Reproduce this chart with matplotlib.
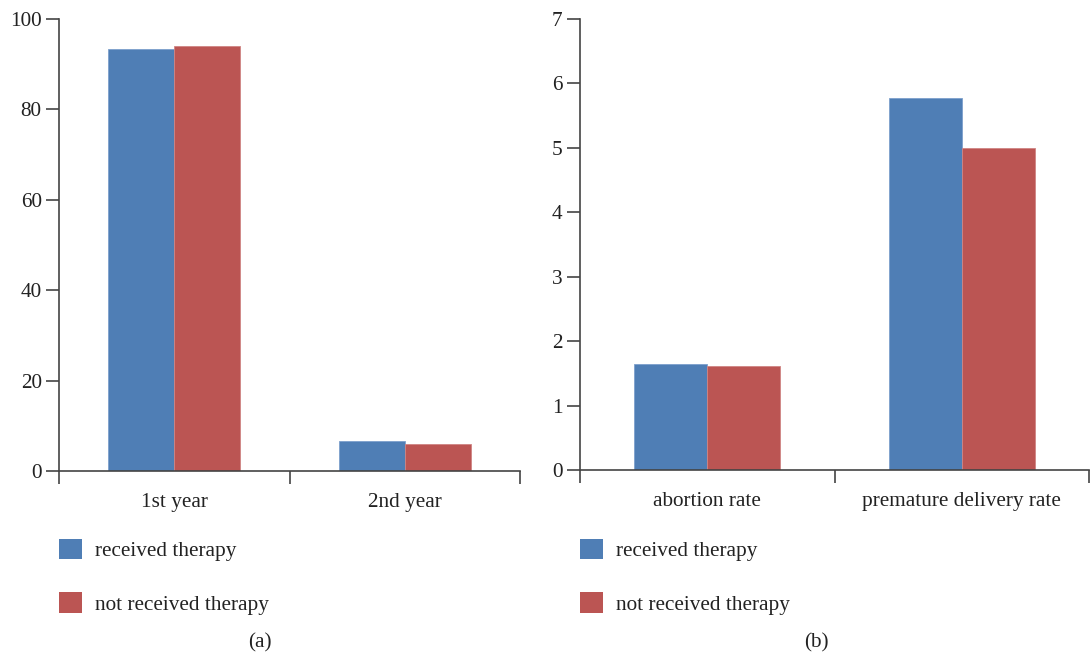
import matplotlib
matplotlib.use("Agg")
import matplotlib.pyplot as plt
from matplotlib.patches import Patch
import numpy as np

plt.rcParams['font.family'] = ['Liberation Serif', 'DejaVu Serif']

# data
years = ["1st year", "2nd year"]
years_received = [93.3, 6.6]
years_not_received = [94.0, 6.0]

outcomes = ["abortion rate", "premature delivery rate"]
outcomes_received = [1.65, 5.78]
outcomes_not_received = [1.61, 5.0]

series_names = ["received therapy", "not received therapy"]
blue = "#4f7eb5"
red = "#bb5553"
axis_col = "#444444"
fs = 15.3

W, H = 1090, 657
fig = plt.figure(figsize=(W / 100, H / 100), dpi=100)


def px_axes(x0, x1, ytop, ybot):
    return fig.add_axes([x0 / W, 1 - ybot / H, (x1 - x0) / W, (ybot - ytop) / H])


def draw_panel(ax, cats, vals_a, vals_b, ymax, yticks):
    bw = 0.286
    pos = np.arange(len(cats)) + 0.5
    ax.bar(pos - bw / 2, vals_a, bw, color=blue, edgecolor="#7da0cc", linewidth=0.6)
    ax.bar(pos + bw / 2, vals_b, bw, color=red, edgecolor="#d08583", linewidth=0.6)
    ax.set_xlim(0, len(cats))
    ax.set_ylim(0, ymax)
    ax.set_yticks(yticks)
    ax.set_xticks(np.arange(len(cats) + 1))
    ax.set_xticklabels([])
    ax.set_xticks(pos, minor=True)
    ax.set_xticklabels(cats, minor=True)
    ax.tick_params(axis="x", which="major", direction="out", length=9.5,
                   width=1.2, color=axis_col)
    ax.tick_params(axis="x", which="minor", length=0, pad=16, labelsize=fs,
                   labelcolor="#222222")
    ax.tick_params(axis="y", direction="out", length=9.5, width=1.2,
                   color=axis_col, labelsize=fs, labelcolor="#222222", pad=3)
    for s in ["top", "right"]:
        ax.spines[s].set_visible(False)
    for s in ["left", "bottom"]:
        ax.spines[s].set_color(axis_col)
        ax.spines[s].set_linewidth(1.2)


ax1 = px_axes(59, 520, 19, 471)
draw_panel(ax1, years, years_received, years_not_received, 100, [0, 20, 40, 60, 80, 100])

ax2 = px_axes(580, 1089, 19, 470)
draw_panel(ax2, outcomes, outcomes_received, outcomes_not_received, 7, range(0, 8))

handles = [Patch(facecolor=blue, edgecolor="none"), Patch(facecolor=red, edgecolor="none")]
for x0 in (59, 580):
    fig.legend(handles, series_names, loc="upper left",
               bbox_to_anchor=(x0 / W, 1 - 539 / H), frameon=False,
               borderpad=0, borderaxespad=0, handlelength=1.1, handleheight=1.1,
               handletextpad=0.6, labelspacing=1.45, fontsize=fs,
               labelcolor="#222222")

fig.text(260 / W, 1 - 643 / H, "(a)", ha="center", va="center", fontsize=fs, color="#222222")
fig.text(816 / W, 1 - 643 / H, "(b)", ha="center", va="center", fontsize=fs, color="#222222")

fig.savefig("out.png", dpi=100)
